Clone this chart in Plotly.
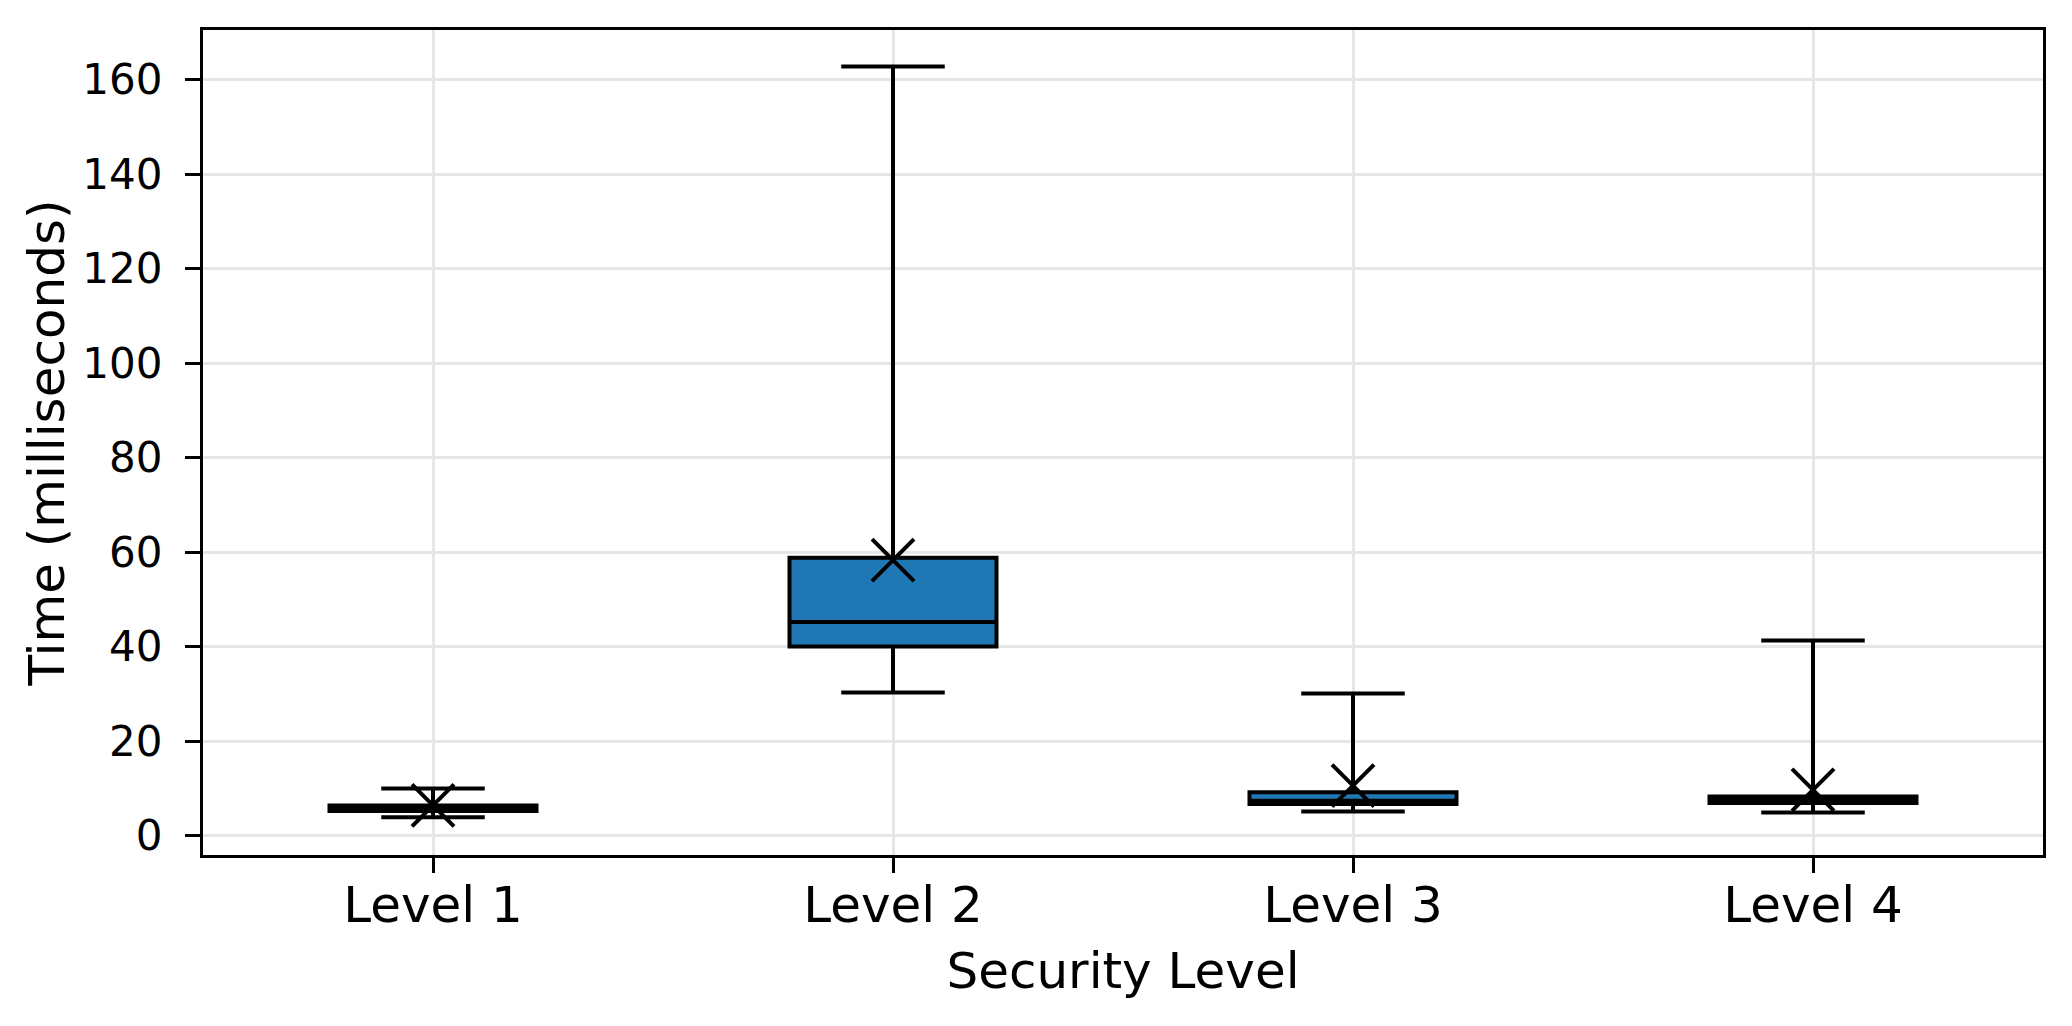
import plotly.graph_objects as go

categories = ["Level 1", "Level 2", "Level 3", "Level 4"]
positions = [1, 2, 3, 4]
q1_vals = [5.2, 40.0, 6.7, 6.9]
median_vals = [5.8, 45.2, 7.4, 7.5]
q3_vals = [6.4, 58.8, 9.2, 8.3]
lower_whisker = [3.9, 30.3, 5.1, 4.9]
upper_whisker = [10.0, 162.8, 30.1, 41.3]
mean_vals = [6.4, 58.3, 10.6, 9.7]
y_ticks = [0, 20, 40, 60, 80, 100, 120, 140, 160]

FONT = "DejaVu Sans"

fig = go.Figure()
fig.add_trace(go.Box(
    x=positions,
    q1=q1_vals,
    median=median_vals,
    q3=q3_vals,
    lowerfence=lower_whisker,
    upperfence=upper_whisker,
    width=0.45,
    whiskerwidth=0.5,
    fillcolor="#1f77b4",
    line=dict(color="black", width=4),
    boxpoints=False,
    showlegend=False,
    hoverinfo="skip",
))
fig.add_trace(go.Scatter(
    x=positions,
    y=mean_vals,
    mode="markers",
    marker=dict(symbol="x-thin", size=42, color="black",
                line=dict(color="black", width=4)),
    showlegend=False,
    hoverinfo="skip",
))

axis_common = dict(
    showline=True, linecolor="black", linewidth=3.3, mirror=True,
    ticks="outside", ticklen=15, tickwidth=3.3, tickcolor="black",
    showgrid=True, gridcolor="#e6e6e6", gridwidth=3,
    zeroline=False,
)

fig.update_layout(
    width=2072, height=1026,
    margin=dict(l=203, r=29, t=30, b=171, autoexpand=False),
    paper_bgcolor="white", plot_bgcolor="white",
    font=dict(family=FONT, color="black"),
    xaxis=dict(
        range=[0.5, 4.5],
        tickvals=positions, ticktext=categories,
        tickfont=dict(size=50, family=FONT),
        title=dict(text="Security Level", font=dict(size=50, family=FONT), standoff=20),
        ticklabelstandoff=-11,
        **axis_common,
    ),
    yaxis=dict(
        range=[-4.1, 170.5],
        tickvals=y_ticks,
        tickfont=dict(size=42, family=FONT),
        title=dict(text="Time (milliseconds)", font=dict(size=50, family=FONT), standoff=2),
        ticklabelstandoff=14,
        **axis_common,
    ),
)

fig.write_html("out.html", config={"displayModeBar": False},
               post_script="document.body.style.margin='0';")
